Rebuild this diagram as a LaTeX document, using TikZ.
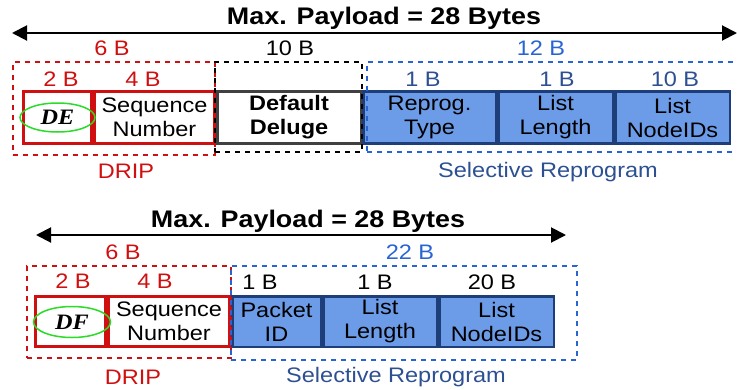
\documentclass[tikz,border=0pt]{standalone}
\usepackage{fontspec}
\setmainfont[FakeStretch=1.12]{Liberation Sans}
\newfontfamily\tagfont[FakeStretch=1.1]{Liberation Serif}
\usetikzlibrary{arrows.meta,positioning,fit,shapes.geometric}

\definecolor{dripred}{RGB}{208,16,16}
\definecolor{selblue}{RGB}{40,100,212}
\definecolor{seldark}{RGB}{44,80,146}
\definecolor{fieldfill}{RGB}{108,156,232}
\definecolor{fieldline}{RGB}{30,62,122}
\definecolor{taggreen}{RGB}{40,220,40}

\begin{document}
\begin{tikzpicture}[
    x=1pt, y=-1pt,
    font=\fontsize{21}{24}\selectfont,
    every node/.style={inner sep=0pt},
    title/.style={font=\fontsize{24}{26}\selectfont\bfseries},
    span/.style={<->, >={Triangle[length=15pt,width=15pt]}, line width=2pt},
    field/.style={rectangle, draw, align=center, minimum height=52pt},
    dripfield/.style={field, draw=dripred, line width=3pt, fill=white},
    selfield/.style={field, draw=fieldline, fill=fieldfill, line width=2.5pt},
    group/.style={rectangle, draw, dash pattern=on 5pt off 5pt, line width=1.5pt, inner sep=0pt},
    tag/.style={ellipse, draw=taggreen, line width=1.5pt, font=\fontsize{22}{24}\tagfont\bfseries\itshape}
]
    \useasboundingbox (0,0) rectangle (737,389);

    % Deluge packet with the default payload
    \node[title] (title1) at (384,18) {Max. Payload = 28 Bytes};
    \coordinate (span1l) at (12,33);
    \coordinate (span1r) at (737,33);
    \draw[span] (span1l) -- (span1r);

    \node[dripfield, minimum width=68pt] (de) at (57.5,117.5) {};
    \node[dripfield, minimum width=120pt, right=0pt of de] (seq1) {Sequence\\Number};
    \node[field, draw=black!75, line width=2.5pt, minimum width=143.5pt, right=0pt of seq1,
          font=\fontsize{21}{24}\selectfont\bfseries] (deluge) {Default\\Deluge};
    \node[selfield, minimum width=132.5pt, right=0pt of deluge] (rtype) {Reprog.\\Type};
    \node[selfield, minimum width=114.5pt, right=0pt of rtype] (llen1) {List\\Length};
    \node[selfield, minimum width=114.5pt, right=0pt of llen1] (lids1) {List\\NodeIDs};
    \node[tag, minimum width=75pt, minimum height=29pt] (detag) at (de.center) {DE};

    \node[text=dripred] (de2b) at (61,79) {2 B};
    \node[text=dripred] (seq4b) at (143,79) {4 B};
    \node[text=seldark] (rtype1b) at (423,79) {1 B};
    \node[text=seldark] (llen1b) at (557,79) {1 B};
    \node[text=seldark] (lids10b) at (675,79) {10 B};

    \node[group, draw=dripred, fit={(13,62) (215,155)}] (drip1) {};
    \node[group, draw=black, fit={(215,62) (362,152)}] (dflt) {};
    \node[group, draw=selblue, fit={(367,62) (745,152)}] (sel1) {};

    \node[text=dripred] (drip1size) at (112,48) {6 B};
    \node (dflt1size) at (290,48) {10 B};
    \node[text=selblue] (sel1size) at (541,48) {12 B};
    \node[text=dripred] (drip1lbl) at (126,171) {DRIP};
    \node[text=seldark] (sel1lbl) at (548,172) {Selective Reprogram};

    % packet with the payload given over to the node list
    \node[title] (title2) at (308,221) {Max. Payload = 28 Bytes};
    \coordinate (span2l) at (36,235);
    \coordinate (span2r) at (566,235);
    \draw[span] (span2l) -- (span2r);

    \node[dripfield, minimum width=70pt, minimum height=50pt] (df) at (70.5,321.5) {};
    \node[dripfield, minimum width=121pt, minimum height=50pt, right=0pt of df] (seq2) {Sequence\\Number};
    \node[selfield, minimum width=88.5pt, minimum height=50.5pt, right=0pt of seq2] (pid) {Packet\\ID};
    \node[selfield, minimum width=113.5pt, minimum height=50.5pt, right=0pt of pid] (llen2) {List\\Length};
    \node[selfield, minimum width=114.5pt, minimum height=50.5pt, right=0pt of llen2] (lids2) {List\\NodeIDs};
    \node[tag, minimum width=77pt, minimum height=31pt] (dftag) at (72,322) {DF};

    \node[text=dripred] (df2b) at (73,281) {2 B};
    \node[text=dripred] (seq4b2) at (155,281) {4 B};
    \node (pid1b) at (260,282) {1 B};
    \node (llen1b2) at (375,282) {1 B};
    \node (lids20b) at (492,282) {20 B};

    \node[group, draw=dripred, fit={(27,266) (231,358)}] (drip2) {};
    \node[group, draw=selblue, fit={(231,266) (577,360)}] (sel2) {};

    \node[text=dripred] (drip2size) at (123,252) {6 B};
    \node[text=selblue] (sel2size) at (410,252) {22 B};
    \node[text=dripred] (drip2lbl) at (133,377) {DRIP};
    \node[text=seldark] (sel2lbl) at (396,377) {Selective Reprogram};
\end{tikzpicture}
\end{document}
